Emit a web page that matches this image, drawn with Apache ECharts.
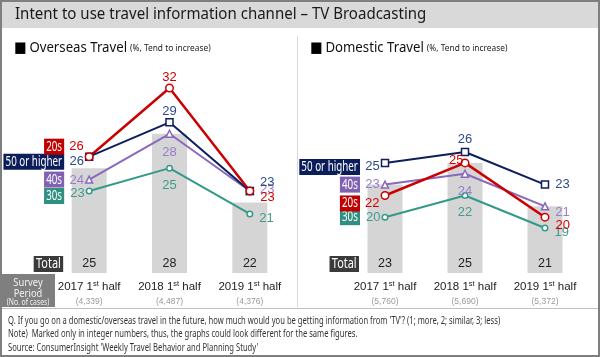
<!DOCTYPE html>
<html><head><meta charset="utf-8">
<script src="https://cdn.jsdelivr.net/npm/echarts@6/dist/echarts.min.js"></script>
<style>html,body{margin:0;padding:0;background:#fff}#c{width:600px;height:357px}</style>
</head><body><div id="c"></div>
<script>
// ---- data ----
var years = ['2017', '2018', '2019'];
var overseasCases = ['4,339', '4,487', '4,376'];
var domesticCases = ['5,760', '5,690', '5,372'];
var overseasTotal = [25, 28, 22];
var overseas20s = [26, 32, 23];
var overseas30s = [23, 25, 21];
var overseas40s = [24, 28, 23];
var overseas50 = [26, 29, 23];
var domesticTotal = [23, 25, 21];
var domestic20s = [22, 25, 20];
var domestic30s = [20, 22, 19];
var domestic40s = [23, 24, 21];
var domestic50 = [25, 26, 23];
var groupNames = ['30s', '40s', '50 or higher', '20s'];

var FONT = 'Noto Sans';
var LFONT = 'Liberation Sans';
var chart = echarts.init(document.getElementById('c'));

var styles = {
  '20s': {line: '#cc0000', lab: '#d40000', tag: '#c00000', symbol: 'circle', size: 7.5, lw: 2.5},
  '30s': {line: '#339a89', lab: '#3f9d8d', tag: '#2f8f80', symbol: 'circle', size: 5.5, lw: 2},
  '40s': {line: '#8a68bd', lab: '#9a7dc8', tag: '#8062b2', symbol: 'triangle', size: 7, lw: 2},
  '50 or higher': {line: '#0c1f5c', lab: '#2c4a8c', tag: '#0b1e5b', symbol: 'rect', size: 7, lw: 2}
};

// label placement per point: [position, dx, dy, distance]; tagDy = vertical shift of group tag
var place = {
  o: {
    '20s': [['left', 0, -10, 1], ['top', 0, 3, 3], ['right', 3, 6, 3]],
    '30s': [['left', 0, 2, 1], ['bottom', 0, 4, 3], ['right', 3, 4, 3]],
    '40s': [['left', 0, 1, 1], ['bottom', 0, 5, 3], ['right', 3, -2, 3]],
    '50 or higher': [['left', 0, 5, 1], ['top', 0, 3, 3], ['right', 3, -9, 3]]
  },
  d: {
    '20s': [['left', 0, 8, 1], ['left', 0, -2, -3], ['right', 3, 8, 3]],
    '30s': [['left', 0, 0, 1], ['bottom', 0, 4, 3], ['right', 3, 4, 3]],
    '40s': [['left', 0, 0, 1], ['bottom', 0, 4, 3], ['right', 3, 6, 3]],
    '50 or higher': [['left', 0, 4, 1], ['top', 0, 1, 3], ['right', 3, 0, 3]]
  }
};
var tagDy = {
  o: {'20s': -10, '30s': 5, '40s': 0, '50 or higher': 5},
  d: {'20s': 8, '30s': 0, '40s': 0, '50 or higher': 4}
};

function lineSeries(name, values, gi, key) {
  var st = styles[name];
  var data = values.map(function (v, i) {
    var p = place[key][name][i];
    return {value: v, label: {show: true, position: p[0], offset: [p[1], p[2]], distance: p[3],
      color: st.lab, fontSize: 13, fontFamily: LFONT}};
  });
  return {
    type: 'line', name: name + key, xAxisIndex: gi, yAxisIndex: gi, data: data,
    symbol: st.symbol, symbolSize: st.size, z: 5,
    lineStyle: {color: st.line, width: st.lw},
    itemStyle: {color: '#fff', borderColor: st.line, borderWidth: 1.5},
    emphasis: {disabled: true}, animation: false
  };
}

function barSeries(values, gi) {
  return {
    type: 'bar', xAxisIndex: gi, yAxisIndex: gi, barWidth: 35, z: 1,
    itemStyle: {color: '#d5d5d5'},
    label: {show: true, position: 'insideBottom', distance: 3, color: '#222', fontSize: 12.5, fontFamily: LFONT},
    data: values,
    animation: false
  };
}

function xAxis(gi, cases) {
  return {
    type: 'category', gridIndex: gi, data: years, boundaryGap: true,
    axisLine: {show: false}, axisTick: {show: false},
    axisLabel: {
      margin: 6, interval: 0,
      formatter: function (val, idx) {
        return '{a|' + val + ' 1}{s|st}{a| half}\n{c|(' + cases[idx] + ')}';
      },
      rich: {
        a: {fontSize: 11.5, color: '#222', fontFamily: LFONT, lineHeight: 15},
        s: {fontSize: 7.5, color: '#222', fontFamily: LFONT, padding: [0, 0, 6, 0], lineHeight: 15},
        c: {fontSize: 8.5, color: '#9a9a9a', fontFamily: LFONT, lineHeight: 15}
      }
    }
  };
}

var series = [barSeries(overseasTotal, 0), barSeries(domesticTotal, 1)];
var oVals = {'30s': overseas30s, '40s': overseas40s, '50 or higher': overseas50, '20s': overseas20s};
var dVals = {'30s': domestic30s, '40s': domestic40s, '50 or higher': domestic50, '20s': domestic20s};
groupNames.forEach(function (n) { series.push(lineSeries(n, oVals[n], 0, 'o')); });
groupNames.forEach(function (n) { series.push(lineSeries(n, dVals[n], 1, 'd')); });

var option = {
  backgroundColor: '#fff',
  animation: false,
  grid: [
    {left: 49, width: 241, top: 65.1, bottom: 84},
    {left: 345, width: 240, top: 108.6, bottom: 84}
  ],
  xAxis: [xAxis(0, overseasCases), xAxis(1, domesticCases)],
  yAxis: [
    {type: 'value', gridIndex: 0, min: 15.84, max: 34, show: false, splitLine: {show: false}},
    {type: 'value', gridIndex: 1, min: 14.86, max: 30, show: false, splitLine: {show: false}}
  ],
  series: series
};
chart.setOption(option);

var statics = [
  {type: 'rect', shape: {x: 0, y: 0, width: 600, height: 28}, style: {fill: '#d9d9d9'}, z: 0},
  {type: 'text', x: 15, y: 15, scaleX: 0.97, style: {text: 'Intent to use travel information channel \u2013 TV Broadcasting', fill: '#1a1a1a', fontSize: 15.5, fontFamily: FONT, verticalAlign: 'middle'}},
  {type: 'text', x: 14, y: 48, scaleX: 0.88, style: {text: '{b|\u25A0} {m|Overseas Travel} {s|(%, Tend to increase)}', verticalAlign: 'middle',
    rich: {b: {fontSize: 15, fill: '#000', fontFamily: 'DejaVu Sans'}, m: {fontSize: 15, fill: '#111', fontFamily: FONT}, s: {fontSize: 9.5, fill: '#222', fontFamily: FONT}}}},
  {type: 'text', x: 310, y: 48, scaleX: 0.88, style: {text: '{b|\u25A0} {m|Domestic Travel} {s|(%, Tend to increase)}', verticalAlign: 'middle',
    rich: {b: {fontSize: 15, fill: '#000', fontFamily: 'DejaVu Sans'}, m: {fontSize: 15, fill: '#111', fontFamily: FONT}, s: {fontSize: 9.5, fill: '#222', fontFamily: FONT}}}},
  {type: 'line', shape: {x1: 297.5, y1: 36, x2: 297.5, y2: 307}, style: {stroke: '#d9d9d9', lineWidth: 1}},
  {type: 'rect', shape: {x: 1, y: 274, width: 54, height: 33}, style: {fill: '#7f7f7f'}},
  {type: 'text', x: 28, y: 283, scaleX: 0.85, style: {text: 'Survey', align: 'center', verticalAlign: 'middle', fill: '#f2f2f2', fontSize: 11, fontFamily: FONT}},
  {type: 'text', x: 28, y: 294, scaleX: 0.85, style: {text: 'Period', align: 'center', verticalAlign: 'middle', fill: '#f2f2f2', fontSize: 11, fontFamily: FONT}},
  {type: 'text', x: 28, y: 303, scaleX: 0.85, style: {text: '(No. of cases)', align: 'center', verticalAlign: 'middle', fill: '#f2f2f2', fontSize: 8, fontFamily: FONT}},
  {type: 'line', shape: {x1: 0, y1: 308.5, x2: 600, y2: 308.5}, style: {stroke: '#bfbfbf', lineWidth: 1}},
  {type: 'text', x: 8, y: 314, scaleX: 0.725, style: {text: "Q. If you go on a domestic/overseas travel in the future, how much would you be getting information from 'TV'? (1; more, 2; similar, 3; less)\nNote)  Marked only in integer numbers, thus, the graphs could look different for the same figures.\nSource: ConsumerInsight 'Weekly Travel Behavior and Planning Study'",
    fill: '#333', fontSize: 10.5, fontFamily: FONT, lineHeight: 13.5}},
  {type: 'rect', shape: {x: 1, y: 1, width: 598, height: 355}, style: {fill: 'none', stroke: '#7f7f7f', lineWidth: 2}, z: 100}
];

// group tags anchored to the first data point of each series
function tag(text, bg, px, py, scale, fs) {
  return {type: 'text', x: px, y: py, scaleX: scale, z: 50,
    style: {text: text, fill: '#fff', backgroundColor: bg, padding: [1, 3, 1, 3], fontSize: fs, lineHeight: 14,
      fontFamily: FONT, align: 'right', verticalAlign: 'middle'}};
}
var tags = [];
[['o', 0, oVals], ['d', 1, dVals]].forEach(function (g) {
  groupNames.forEach(function (n) {
    var pt = chart.convertToPixel({gridIndex: g[1]}, [years[0], g[2][n][0]]);
    tags.push(tag(n, styles[n].tag, pt[0] - 25, pt[1] + tagDy[g[0]][n], 0.7, 14));
  });
  var base = chart.convertToPixel({gridIndex: g[1]}, [years[0], g[1] === 0 ? 15.84 : 14.86]);
  tags.push(tag('Total', '#3a3a3a', base[0] - 26, base[1] - 9, 0.78, 14));
});
chart.setOption({graphic: statics.concat(tags)});
</script></body></html>
